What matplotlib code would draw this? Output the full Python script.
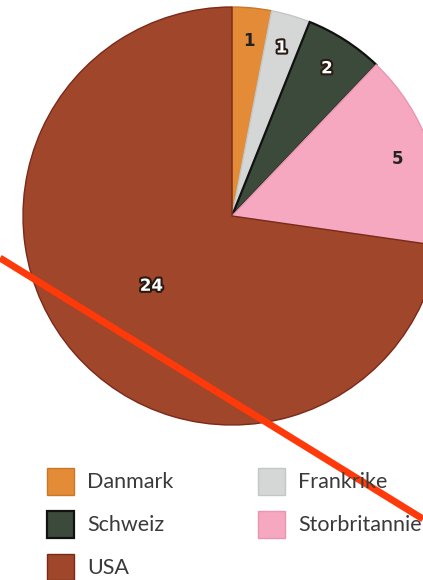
import numpy as np
import matplotlib.pyplot as plt
import matplotlib.patheffects as pe
from matplotlib.lines import Line2D

# data
countries = ["Danmark", "Frankrike", "Schweiz", "Storbritannien", "USA"]
counts = [1, 1, 2, 5, 24]
colors = ["#e38b36", "#d4d7d5", "#3b4a3b", "#f5a8bf", "#a0462a"]
edges = ["#c9772a", "#c4c6c4", "#111111", "#e897ae", "#7a2a18"]
text_colors = ["#222222", "white", "white", "#222222", "white"]
label_r = [0.84, 0.84, 0.84, 0.84, 0.51]

fig = plt.figure(figsize=(4.23, 5.80), dpi=100)
W, H = 423, 580

# pie axes: centre (232, 216) px from top-left, radius 209 px
cx, cy, r = 232, 216, 209
ax = fig.add_axes([(cx - r) / W, (H - cy - r) / H, 2 * r / W, 2 * r / H])
wedges, _ = ax.pie(counts, colors=colors, startangle=90, counterclock=False,
                   radius=1.0, wedgeprops=dict(linewidth=1.0))
for w, ec in zip(wedges, edges):
    w.set_edgecolor(ec)
wedges[2].set_linewidth(1.6)
ax.set_xlim(-1, 1)
ax.set_ylim(-1, 1)
ax.set_aspect("equal")
ax.axis("off")

# value labels
for w, n, tc, lr in zip(wedges, counts, text_colors, label_r):
    ang = np.deg2rad((w.theta1 + w.theta2) / 2)
    x, y = lr * np.cos(ang), lr * np.sin(ang)
    effects = [pe.withStroke(linewidth=3, foreground="#2a1a14")] if tc == "white" else []
    ax.text(x, y, str(n), ha="center", va="center", fontsize=12,
            fontweight="bold", color=tc, family="DejaVu Sans", path_effects=effects)

# legend (column-wise fill like the original)
order = [0, 2, 4, 1, 3]
leg = fig.legend([wedges[i] for i in order], [countries[i] for i in order],
                 ncol=2, loc="upper left", bbox_to_anchor=(47 / W, 1 - 468 / H),
                 frameon=False, prop=dict(family="Lato", size=15.5),
                 handlelength=1.26, handleheight=1.53, handletextpad=0.62,
                 labelspacing=0.75, columnspacing=3.9, borderaxespad=0,
                 borderpad=0)
for t in leg.get_texts():
    t.set_color("#3a3a3a")

# red pen stroke across the page
fig.add_artist(Line2D([0, 1], [1 - 258 / H, 1 - 519 / H], color="#ff3a0a",
                      linewidth=5, transform=fig.transFigure, solid_capstyle="butt"))

fig.savefig("out.png", dpi=100)
